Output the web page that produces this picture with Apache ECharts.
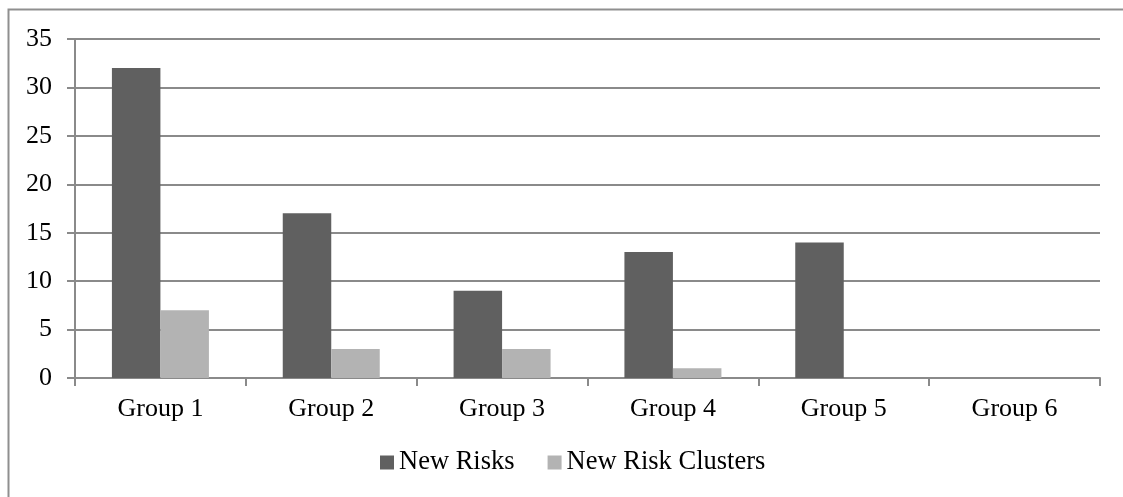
<!DOCTYPE html>
<html>
<head>
<meta charset="utf-8">
<script src="https://cdn.jsdelivr.net/npm/echarts@6/dist/echarts.min.js"></script>
<style>
  html, body { margin: 0; padding: 0; background: #fff; }
  #chart { width: 1123px; height: 497px; }
</style>
</head>
<body>
<div id="chart"></div>
<script>
// Risk counts per group
const categories = ['Group 1', 'Group 2', 'Group 3', 'Group 4', 'Group 5', 'Group 6'];
const newRisks = [32, 17, 9, 13, 14, 0];
const newRiskClusters = [7, 3, 3, 1, 0, 0];
const seriesNames = ['New Risks', 'New Risk Clusters'];

const font = 'Liberation Serif, Times New Roman, serif';
const lineColor = '#8a8a8a';

const chart = echarts.init(document.getElementById('chart'), null, { renderer: 'canvas' });
chart.setOption({
  animation: false,
  backgroundColor: '#ffffff',
  textStyle: { fontFamily: font },
  graphic: [{
    type: 'rect',
    shape: { x: 8.5, y: 9.5, width: 1200, height: 600 },
    style: { fill: 'none', stroke: '#8f8f8f', lineWidth: 2 },
    silent: true
  }],
  grid: { left: 75, right: 23, top: 39, bottom: 119, containLabel: false },
  legend: {
    data: seriesNames,
    bottom: 16,
    left: 375,
    itemWidth: 14,
    itemHeight: 14,
    itemGap: 33,
    icon: 'rect',
    textStyle: { fontFamily: font, fontSize: 26.5, color: '#000' }
  },
  xAxis: {
    type: 'category',
    data: categories,
    axisLine: { lineStyle: { color: lineColor, width: 2 } },
    axisTick: { show: true, length: 8, alignWithLabel: false, lineStyle: { color: lineColor, width: 2 } },
    axisLabel: { fontFamily: font, fontSize: 26, color: '#000', margin: 18, interval: 0 },
    splitLine: { show: false }
  },
  yAxis: {
    type: 'value',
    min: 0,
    max: 35,
    interval: 5,
    axisLine: { show: true, lineStyle: { color: lineColor, width: 2 } },
    axisTick: { show: true, length: 8, lineStyle: { color: lineColor, width: 2 } },
    axisLabel: { fontFamily: font, fontSize: 26, color: '#000', margin: 23 },
    splitLine: { show: true, lineStyle: { color: lineColor, width: 2 } }
  },
  series: [
    {
      name: seriesNames[0],
      type: 'bar',
      data: newRisks,
      barWidth: 48.5,
      barGap: '0%',
      itemStyle: { color: '#606060' }
    },
    {
      name: seriesNames[1],
      type: 'bar',
      data: newRiskClusters,
      barWidth: 48.5,
      barGap: '0%',
      itemStyle: { color: '#b3b3b3' }
    }
  ]
});
</script>
</body>
</html>
